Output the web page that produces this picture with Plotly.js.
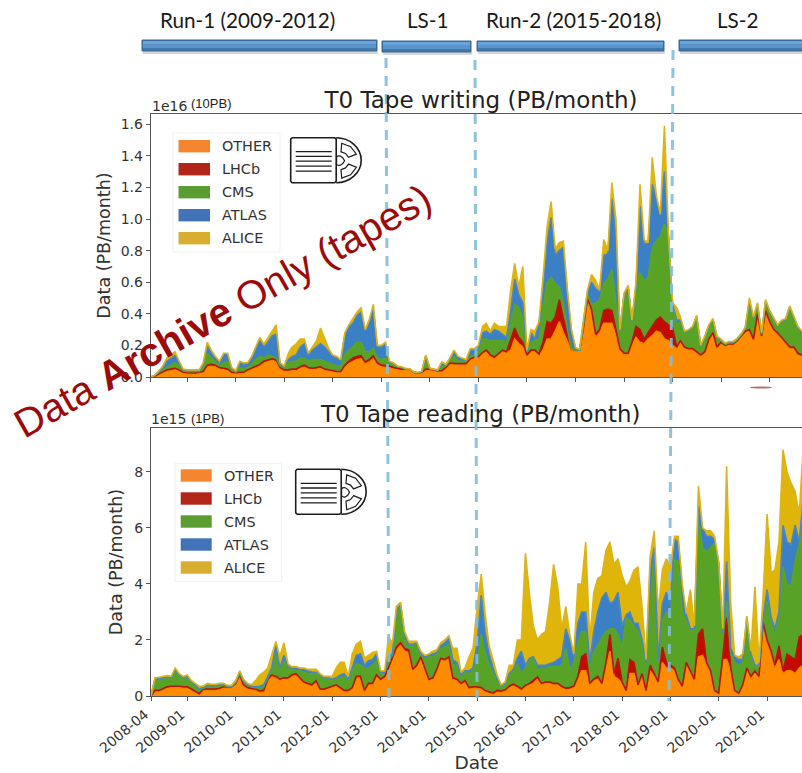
<!DOCTYPE html>
<html>
<head>
<meta charset="utf-8">
<script src="https://cdn.plot.ly/plotly-3.0.1.min.js"></script>
<style>html,body{margin:0;padding:0;background:#fff}#chart{width:802px;height:773px}</style>
</head>
<body>
<div id="chart"></div>
<script>
// Monthly samples from 2008-04; stack boundaries in PB/month.
var seriesNames = ['OTHER','LHCb','CMS','ATLAS','ALICE'];
var seriesColors = ['#ff8c00','#c20c02','#58a326','#3b7fc4','#e0b50a'];
var lineColors = ['#f28500','#b8160a','#5aa32c','#4a86c2','#dcb41a'];
var legendColors = ['#f5862f','#b2261a','#5b9d33','#4273b9','#d9ae30'];
var yearTickLabels = ['2008-04','2009-01','2010-01','2011-01','2012-01','2013-01','2014-01','2015-01','2016-01','2017-01','2018-01','2019-01','2020-01','2021-01'];

var writeOther = [0,.03,.15,.25,.38,.42,.47,.38,.25,.22,
.2,.2,.25,.3,.65,.7,.65,.5,.47,.42,
.25,.22,.25,.25,.38,.47,.6,.7,.88,1.0,
1.05,.95,.5,.38,.38,.42,.42,.55,.62,.5,
.47,.5,.55,.42,.38,.33,.3,.3,.62,.85,
1.0,1.1,1.15,.82,.95,1.15,.78,.65,.62,.6,
.52,.48,.44,.44,.44,.25,.2,.25,.42,.43,
.38,.33,.33,.5,.78,.75,.75,.75,.75,1.1,
1.2,1.25,1.5,1.6,1.3,1.2,1.4,1.6,1.55,1.7,
2.4,2.1,1.9,1.3,1.6,1.6,1.4,1.7,2.4,2.4,
2.9,3.5,2.8,2.2,1.7,1.6,1.7,2.9,4.8,4.0,
2.5,2.8,3.4,3.4,3.4,2.6,1.7,1.4,1.4,2.0,
2.5,2.2,2.1,2.4,2.6,2.9,2.8,2.4,2.3,2.0,
1.8,2.2,1.8,1.7,1.7,1.5,1.3,1.5,2.3,2.7,
1.8,2.1,1.95,2.05,2.05,2.25,2.55,2.85,2.9,2.3,
3.9,2.5,4.1,3.4,2.9,2.7,2.4,2.1,1.8,1.8,
1.4,1.3,1.3];
var writeLhcb = [0,.05,.2,.3,.45,.5,.55,.45,.3,.27,
.25,.25,.3,.35,.75,.8,.75,.6,.55,.5,
.3,.27,.3,.3,.45,.55,.7,.8,1.0,1.1,
1.15,1.1,.6,.45,.45,.5,.5,.65,.75,.6,
.55,.6,.65,.5,.45,.4,.35,.35,.75,1.0,
1.2,1.3,1.35,.95,1.1,1.35,.9,.75,.7,.7,
.6,.55,.5,.5,.5,.3,.25,.3,.5,.5,
.45,.4,.4,.6,.9,.85,.85,.85,.85,1.15,
1.25,1.3,1.55,1.7,1.4,1.25,1.5,1.7,1.6,2.3,
3.1,2.5,2.2,1.4,1.7,1.7,1.45,2.2,3.5,3.4,
3.8,4.9,3.7,2.8,1.8,1.7,1.7,3.1,5.0,4.3,
2.7,3.0,4.2,4.3,4.2,3.0,1.8,1.5,1.5,2.2,
3.2,3.0,2.4,2.8,3.2,3.6,3.8,3.5,3.3,3.1,
1.9,2.3,1.9,1.8,1.8,1.6,1.4,1.6,2.4,2.8,
1.9,2.2,2.0,2.1,2.1,2.3,2.6,2.9,3.0,2.4,
4.0,2.6,4.2,3.5,3.0,2.8,2.5,2.2,1.9,1.9,
1.5,1.4,1.4];
var writeCms = [0,.1,.3,.45,.6,.75,.9,.7,.4,.35,
.35,.35,.35,.6,1.5,1.2,.95,.7,.9,1.0,
.5,.3,.6,.5,.6,.8,1.1,1.3,1.2,1.4,
1.3,1.2,.7,.6,.9,1.0,1.0,1.2,1.2,1.0,
1.1,1.1,1.1,1.0,.9,.8,.7,.7,1.4,1.7,
1.9,2.2,2.2,1.6,1.6,1.8,1.2,1.1,1.2,.95,
.8,.65,.6,.5,.5,.3,.25,.33,1.0,.52,
.48,.43,.7,.7,1.0,1.3,1.0,1.0,1.0,1.3,
1.4,1.6,2.4,2.4,2.3,2.3,2.3,2.3,2.2,3.5,
4.6,4.4,3.7,1.6,2.2,2.3,2.4,4.5,6.0,6.3,
5.9,5.7,4.6,3.0,1.8,1.7,1.7,3.2,5.2,4.6,
4.7,4.9,5.9,6.2,6.8,4.7,2.9,5.1,5.7,3.4,
5.7,6.6,6.1,6.3,8.2,8.6,8.9,9.7,8.9,4.5,
3.3,3.5,2.8,2.9,3.1,3.8,1.9,2.5,3.2,3.6,
2.5,2.3,2.05,2.15,2.15,2.35,2.65,3.05,4.6,3.6,
4.4,2.7,4.7,4.1,3.6,3.2,3.5,3.6,4.3,3.8,
3.1,2.8,2.8];
var writeAtlas = [0,.1,.35,.6,1.0,1.2,1.35,.9,.45,.4,
.4,.4,.4,.8,2.0,1.5,1.2,.9,1.4,1.4,
.55,.35,.9,.8,.85,1.2,1.8,2.3,1.9,2.2,
2.6,2.7,.8,.65,1.1,1.3,1.4,1.9,2.1,1.4,
1.7,1.9,2.1,1.9,1.6,1.3,1.2,1.0,2.7,3.2,
3.4,3.9,4.1,2.9,3.5,4.4,1.9,1.9,2.1,.95,
.85,.67,.62,.52,.5,.32,.27,.35,1.35,.54,
.48,.43,.9,.75,1.15,1.65,1.25,1.15,1.05,1.7,
1.7,1.8,2.8,2.9,2.7,3.0,2.9,2.7,2.5,4.2,
6.2,5.2,4.7,1.6,2.8,2.4,3.4,5.4,8.5,10.1,
7.7,8.0,8.2,5.2,2.9,1.8,1.7,3.4,5.4,6.0,
5.6,5.4,7.7,7.8,11.3,9.0,2.9,5.2,5.7,3.5,
5.8,10.8,8.4,8.5,12.2,11.3,10.3,13.0,9.0,4.6,
3.6,3.6,2.85,2.95,3.15,3.85,1.95,2.55,3.25,3.65,
2.55,2.35,2.1,2.2,2.2,2.4,2.7,3.1,4.8,3.75,
4.6,2.75,4.8,4.15,3.65,3.25,3.55,3.65,4.45,3.85,
3.15,2.85,2.85];
var writeAlice = [0,.1,.4,.7,1.2,1.4,1.6,1.0,.5,.45,
.45,.45,.45,.9,2.2,1.7,1.3,1.0,1.5,1.5,
.6,.4,1.0,.9,.9,1.3,1.9,2.5,2.1,2.5,
2.9,3.3,.9,.7,1.5,1.9,2.1,2.4,2.4,1.5,
1.9,2.3,3.1,2.4,1.8,1.4,1.3,1.1,2.8,3.3,
3.7,4.1,4.4,3.0,3.6,4.6,2.0,2.0,2.2,1.0,
.9,.7,.65,.55,.52,.34,.29,.37,1.4,.55,
.5,.45,.95,.8,1.2,1.7,1.3,1.2,1.1,1.8,
1.8,2.0,3.2,3.4,2.9,3.4,3.2,3.2,3.2,5.5,
7.2,5.7,7.0,1.7,3.0,2.9,3.5,6.3,9.5,11.1,
8.1,8.5,8.6,5.5,3.0,1.85,1.75,3.6,5.5,6.5,
6.1,5.5,8.7,8.0,12.3,10.0,3.0,5.3,5.8,3.6,
6.0,12.2,8.7,8.5,13.9,11.5,10.3,15.9,9.0,4.7,
4.4,3.8,2.9,3.0,3.2,3.9,2.0,2.6,3.3,3.7,
2.6,2.4,2.15,2.25,2.25,2.45,2.75,3.15,5.0,3.8,
4.7,2.8,4.9,4.2,3.7,3.3,3.6,3.7,4.5,3.9,
3.2,2.9,2.9];

var readOther = [0,.15,.15,.2,.28,.3,.31,.3,.28,.28,
.2,.14,.05,.2,.2,.2,.2,.23,.28,.28,
.28,.4,.7,.35,.25,.22,.2,.14,.15,.55,
.7,.65,.55,.6,.6,.7,.75,.6,.45,.4,
.35,.5,.2,.2,.25,.3,.35,.25,.15,.15,
.25,.65,.65,.15,.4,.4,.7,.55,.65,.95,
1.35,1.65,1.8,1.6,1.55,.9,1.05,1.35,.95,.55,
.6,.9,1.3,1.25,1.35,.6,.55,.4,.5,.25,
.28,.28,.25,.15,.1,.08,.15,.13,.18,.3,
.38,.3,.2,.33,.4,.45,.6,.4,.45,.45,
.4,.4,.3,.23,.25,.3,.6,.9,.9,.4,
.55,.6,.4,1.0,1.6,.7,.6,.45,.15,.8,
.8,.35,.7,.15,.9,.7,.45,1.2,1.0,1.0,
.9,.55,.3,1.1,.8,.55,1.4,1.45,1.1,.85,
.15,.08,1.3,1.3,.9,.15,.08,.35,.95,.65,
.85,.65,2.5,1.9,1.5,1.0,1.3,.8,.9,.9,
.8,1.0,1.1,1.0];
var readLhcb = [0,.2,.2,.25,.33,.35,.36,.35,.33,.33,
.25,.18,.08,.25,.25,.25,.25,.28,.33,.33,
.33,.45,.75,.4,.3,.27,.25,.18,.2,.6,
.75,.7,.6,.65,.65,.75,.8,.65,.5,.45,
.4,.55,.25,.25,.3,.35,.4,.3,.2,.2,
.3,.7,.7,.2,.45,.45,.75,.6,.7,1.0,
1.4,1.75,1.9,1.7,1.65,.95,1.1,1.4,1.0,.6,
.65,.95,1.35,1.3,1.4,.65,.6,.45,.55,.3,
.33,.33,.3,.2,.15,.1,.2,.18,.22,.35,
.42,.35,.25,.38,.45,.55,.68,.45,.5,.5,
.45,.45,.35,.28,.3,.35,.7,1.4,1.5,.45,
.6,.7,.45,1.2,2.2,.8,1.35,.5,.2,1.3,
1.2,.4,.8,.2,1.1,.8,.5,1.75,1.2,1.1,
1.0,.6,.35,1.2,.9,.6,2.2,2.4,1.2,.9,
.2,.1,1.4,2.8,1.0,.2,.1,.4,1.0,.7,
.9,.7,2.65,2.0,1.6,1.1,1.8,.9,1.5,1.4,
1.3,2.1,2.2,2.0];
var readCms = [0,.58,.6,.62,.65,.62,.9,.7,.6,.65,
.45,.38,.23,.28,.35,.35,.35,.38,.38,.33,
.33,.48,.8,.52,.38,.33,.3,.3,.32,.65,
.9,1.55,.95,1.25,1.0,.95,.9,.9,.85,.8,
.8,.8,.7,.62,.62,.55,.6,.65,.7,.55,
.85,1.15,1.1,1.0,1.0,1.1,1.25,.8,.85,1.3,
1.45,3.0,3.2,2.1,1.8,1.8,1.85,1.45,1.3,1.4,
1.4,1.5,1.7,1.75,1.85,1.1,1.1,.7,.85,.8,
.9,1.2,2.2,1.6,1.1,.8,.55,.3,.4,.8,
.9,1.15,.8,1.0,1.35,1.4,.95,1.0,1.0,1.05,
1.05,1.05,1.1,1.7,.95,1.2,1.9,2.3,2.3,1.05,
1.6,1.8,2.1,2.3,2.4,2.4,2.2,1.7,2.8,2.7,
2.5,2.3,1.9,1.1,3.0,5.2,1.2,2.7,3.0,2.8,
4.85,4.8,3.0,2.7,2.35,2.3,6.3,5.3,5.15,5.3,
5.45,4.7,2.2,3.4,1.5,1.2,1.1,1.2,2.6,1.4,
1.05,1.05,2.7,3.4,2.6,2.2,2.8,4.6,4.0,3.9,
4.8,5.4,6.8,5.0];
var readAtlas = [0,.6,.62,.65,.68,.65,.95,.75,.65,.7,
.5,.4,.25,.3,.38,.37,.37,.4,.4,.35,
.35,.5,.85,.55,.4,.35,.33,.35,.4,.7,
1.0,1.8,1.0,1.45,1.05,1.0,1.0,.95,.95,.9,
.85,.85,.75,.65,.65,.6,.65,.75,.8,.6,
1.0,1.45,1.5,1.1,1.25,1.3,1.5,.85,.85,1.4,
1.5,3.1,3.25,2.2,1.85,1.85,1.9,1.5,1.4,1.45,
1.5,1.55,1.8,1.9,2.05,1.3,1.2,.75,.9,.9,
1.0,1.9,3.6,2.3,1.5,1.0,.6,.35,.45,.8,
.95,1.35,1.6,1.1,1.35,1.4,1.1,1.1,1.1,1.15,
1.2,1.3,1.4,2.4,2.0,1.4,2.6,3.0,3.0,1.2,
2.3,3.0,3.5,3.7,3.3,3.4,3.7,2.5,2.9,3.0,
2.6,2.6,2.0,1.2,4.5,5.3,1.25,3.3,3.7,3.3,
5.6,5.5,3.8,2.9,2.4,2.4,6.8,6.0,5.7,5.7,
5.6,4.75,2.25,4.8,1.7,1.4,1.3,1.3,2.8,1.5,
1.1,1.1,2.75,3.8,2.8,2.4,3.0,6.1,5.5,5.4,
6.1,5.5,7.0,6.0];
var readAlice = [0,.65,.67,.7,.73,.7,1.0,.8,.7,.75,
.55,.45,.35,.35,.45,.42,.42,.45,.45,.38,
.38,.55,.9,.6,.45,.4,.55,.75,.85,1.0,
1.5,1.95,1.4,1.9,1.15,1.05,1.05,1.0,1.0,.95,
.95,.95,.8,.7,.7,.7,1.0,1.2,1.2,.7,
1.5,1.85,1.95,1.35,1.45,1.55,1.6,.9,.9,2.1,
1.9,3.2,3.35,2.3,1.95,1.95,1.95,1.6,1.45,1.5,
1.6,1.65,1.9,2.0,2.15,1.7,1.7,.85,1.0,1.4,
1.7,3.2,4.35,3.0,1.8,1.3,.75,.4,.5,1.1,
1.1,2.0,2.0,5.1,3.6,2.5,2.0,2.2,2.3,3.3,
4.7,3.9,2.4,3.2,2.2,1.5,4.0,4.0,5.5,2.0,
3.7,4.2,4.3,5.2,5.5,4.7,4.9,4.3,3.9,4.1,
4.5,4.6,3.2,1.3,5.0,5.9,3.0,4.5,4.9,4.6,
5.7,5.7,4.0,2.95,3.8,2.5,7.5,6.0,5.9,5.9,
5.7,4.8,2.4,8.2,3.3,1.45,1.4,1.5,2.85,1.6,
3.9,1.2,3.5,6.5,4.4,4.5,5.5,8.8,8.0,7.6,
7.3,6.5,8.8,7.0];

var W = 802, H = 773;
function px(x){return x/W;}
function py(y){return 1-y/H;}
function monthLabel(i){var t=2008*12+3+i;var y=Math.floor(t/12),m=t%12+1;return y+'-'+(m<10?'0':'')+m+'-01';}
function months(n){var a=[];for(var i=0;i<n;i++)a.push(monthLabel(i));return a;}

var writeStack=[writeOther,writeLhcb,writeCms,writeAtlas,writeAlice];
var readStack=[readOther,readLhcb,readCms,readAtlas,readAlice];
var traces=[];
writeStack.forEach(function(v,i){
  traces.push({type:'scatter',mode:'lines',x:months(v.length),y:v,name:seriesNames[i],xaxis:'x',yaxis:'y',showlegend:false,
    fill:i===0?'tozeroy':'tonexty',fillcolor:seriesColors[i],line:{color:lineColors[i],width:1.6},hoverinfo:'skip'});
});
readStack.forEach(function(v,i){
  traces.push({type:'scatter',mode:'lines',x:months(v.length),y:v,name:seriesNames[i],xaxis:'x2',yaxis:'y2',showlegend:false,
    fill:i===0?'tozeroy':'tonexty',fillcolor:seriesColors[i],line:{color:lineColors[i],width:1.6},hoverinfo:'skip'});
});

var DJ='"DejaVu Sans", sans-serif', LS='"Liberation Sans", Arial, sans-serif';
var tickVals=yearTickLabels.map(function(s){return s+'-01';});
var spine='#555555', txt='#333333';
var xBase={type:'date',tickmode:'array',tickvals:tickVals,showgrid:false,zeroline:false,showline:true,mirror:true,linecolor:spine,linewidth:1,ticks:'outside',ticklen:4,tickcolor:spine};
var yBase={showgrid:false,zeroline:false,showline:true,linecolor:spine,linewidth:1,ticks:'outside',ticklen:4,tickcolor:spine,tickmode:'array',tickfont:{family:DJ,size:14,color:txt}};

var shapes=[];
function rect(x0,y0,x1,y1,fill,line){shapes.push({type:'rect',xref:'paper',yref:'paper',x0:px(x0),x1:px(x1),y0:py(y1),y1:py(y0),fillcolor:fill,line:{color:line||fill,width:line?1:0}});}
function bar(x0,y0,x1,y1){
  rect(x0+1,y1,x1+1,y1+3,'#d6d6d6');
  rect(x0,y0,x1,y1,'#3c6f9c','#3a6b96');
  rect(x0+1,y0+1,x1-1,y0+4,'#6ba4d8');
  rect(x0+1,y0+4,x1-1,y1-3,'#5a94c9');
  rect(x0+1,y1-3,x1-1,y1-1,'#4279ab');
}
bar(142,40,377,51); bar(382,41,471,52); bar(477,41,664,51); bar(679,40,806,51);

function pth(d,color,w,fill){shapes.push({type:'path',xref:'paper',yref:'paper',path:d,line:{color:color,width:w},fillcolor:fill||'rgba(0,0,0,0)'});}
function P(x,y){return px(x).toFixed(5)+','+py(y).toFixed(5);}
function icon(ox,oy){
  var ink='#1c1c1c';
  pth('M'+P(ox+1.5,oy)+' L'+P(ox+44,oy)+' L'+P(ox+45.5,oy+1.5)+' L'+P(ox+45.5,oy+43.5)+' L'+P(ox+44,oy+45)+' L'+P(ox+1.5,oy+45)+' L'+P(ox,oy+43.5)+' L'+P(ox,oy+1.5)+' Z',ink,1.6,'#ffffff');
  [14,18.7,23.5,28.5,33.5].forEach(function(d){pth('M'+P(ox+5,oy+d)+' L'+P(ox+41,oy+d),ink,1.3);});
  pth('M'+P(ox+45.5,oy)+' C'+P(ox+59.3,oy)+' '+P(ox+70.5,oy+10.1)+' '+P(ox+70.5,oy+22.5)+' C'+P(ox+70.5,oy+34.9)+' '+P(ox+59.3,oy+45)+' '+P(ox+45.5,oy+45),ink,1.6);
  var cx=ox+49.5,cy=oy+23;
  pth('M'+P(cx-3.6,cy-3.6)+' C'+P(cx-2,cy-5.5)+' '+P(cx+2,cy-5.5)+' '+P(cx+4.4,cy)+' C'+P(cx+2,cy+5.5)+' '+P(cx-2,cy+5.5)+' '+P(cx-3.6,cy+3.6)+' Z',ink,1.2);
  function sector(a0,a1){
    var r0=9,r1=17.5,pts=[];
    [[r0,a0],[r1,a0],[r1,(a0+a1)/2],[r1,a1],[r0,a1],[r0,(a0+a1)/2]].forEach(function(p){var a=p[1]*Math.PI/180;pts.push(P(cx+p[0]*Math.cos(a),cy+p[0]*Math.sin(a)));});
    pth('M'+pts[0]+' L'+pts[1]+' L'+pts[2]+' L'+pts[3]+' L'+pts[4]+' L'+pts[5]+' Z',ink,1.2);
  }
  sector(-85,-22); sector(22,85);
}

var annotations=[];
function note(x,y,text,size,family,color,anchor,angle){
  annotations.push({xref:'paper',yref:'paper',x:px(x),y:py(y),text:text,showarrow:false,xanchor:anchor||'left',yanchor:'middle',textangle:angle||0,font:{size:size,family:family,color:color||txt}});
}
function legendBox(x0,y0,x1,y1,swX0,swX1,swY,textX){
  rect(x0,y0,x1,y1,'#ffffff','#f0f0f0');
  seriesNames.forEach(function(n,i){
    var top=swY+i*23;
    rect(swX0,top,swX1,top+12.4,legendColors[i]);
    note(textX,top+6.2,n,14.4,DJ,txt);
  });
}
legendBox(173,133,280,252,178.5,210,140,219.7);
legendBox(175,463.3,281.7,581.7,180.7,211.7,469.3,221.7);

icon(290.7,137.7); icon(295.7,469.3);

function dashLine(x0,y0,x1,y1){shapes.push({type:'line',xref:'paper',yref:'paper',x0:px(x0),y0:py(y0),x1:px(x1),y1:py(y1),line:{color:'rgba(130,190,218,0.9)',width:3,dash:'10px,8px'}});}
dashLine(386,58,389,698); dashLine(475,60,477,698); dashLine(673,50,669,701);
shapes.push({type:'circle',xref:'paper',yref:'paper',x0:px(750),x1:px(772),y0:py(388.5),y1:py(386.5),fillcolor:'rgba(150,50,50,0.7)',line:{width:0}});

note(247,20,'Run-1 (2009-2012)',20.7,'Lato','#1a1a1a','center');
note(428,20,'LS-1',20.7,'Lato','#1a1a1a','center');
note(573,20,'Run-2 (2015-2018)',20.7,'Lato','#1a1a1a','center');
note(738,20,'LS-2',20.7,'Lato','#1a1a1a','center');
note(480,414,'T0 Tape reading (PB/month)',22.9,DJ,'#222222','center');
note(150,106,'1e16',14,DJ);
note(189,103,'(10PB)',13,LS,'#222222');
note(149,419,'1e15',14,DJ);
note(189,418,'(1PB)',13,LS,'#222222');
note(222,311,'Data <b>Archive</b> Only (tapes)',40,LS,'#9c0a0a','center',-29.5);

var layout={
  width:W,height:H,margin:{l:0,r:0,t:0,b:0,autoexpand:false},paper_bgcolor:'#fff',plot_bgcolor:'#fff',showlegend:false,
  title:{text:'T0 Tape writing (PB/month)',x:px(481),y:py(100),xanchor:'center',yanchor:'middle',font:{family:DJ,size:23,color:'#222222'}},
  xaxis:Object.assign({},xBase,{domain:[px(150.7),1],anchor:'y',range:['2008-04-01','2021-09-01'],showticklabels:false}),
  yaxis:Object.assign({},yBase,{domain:[py(377),py(114)],anchor:'x',range:[0,16.65],tickvals:[0,2,4,6,8,10,12,14,16],ticktext:['0.0','0.2','0.4','0.6','0.8','1.0','1.2','1.4','1.6'],
    title:{text:'Data (PB/month)',standoff:5,font:{family:DJ,size:17.5,color:txt}}}),
  xaxis2:Object.assign({},xBase,{domain:[px(151),1],anchor:'y2',range:['2008-04-01','2021-09-22'],ticktext:yearTickLabels,tickangle:-40,ticklabelshift:-6,tickfont:{family:DJ,size:14,color:txt},
    title:{text:'Date',standoff:1,font:{family:DJ,size:18.5,color:txt}}}),
  yaxis2:Object.assign({},yBase,{domain:[py(696),py(428)],anchor:'x2',range:[0,9.57],tickvals:[0,2,4,6,8],ticktext:['0','2','4','6','8'],
    title:{text:'Data (PB/month)',standoff:7,font:{family:DJ,size:17.5,color:txt}}}),
  shapes:shapes,annotations:annotations
};
Plotly.newPlot('chart',traces,layout,{displayModeBar:false,staticPlot:true});
</script>
</body>
</html>
